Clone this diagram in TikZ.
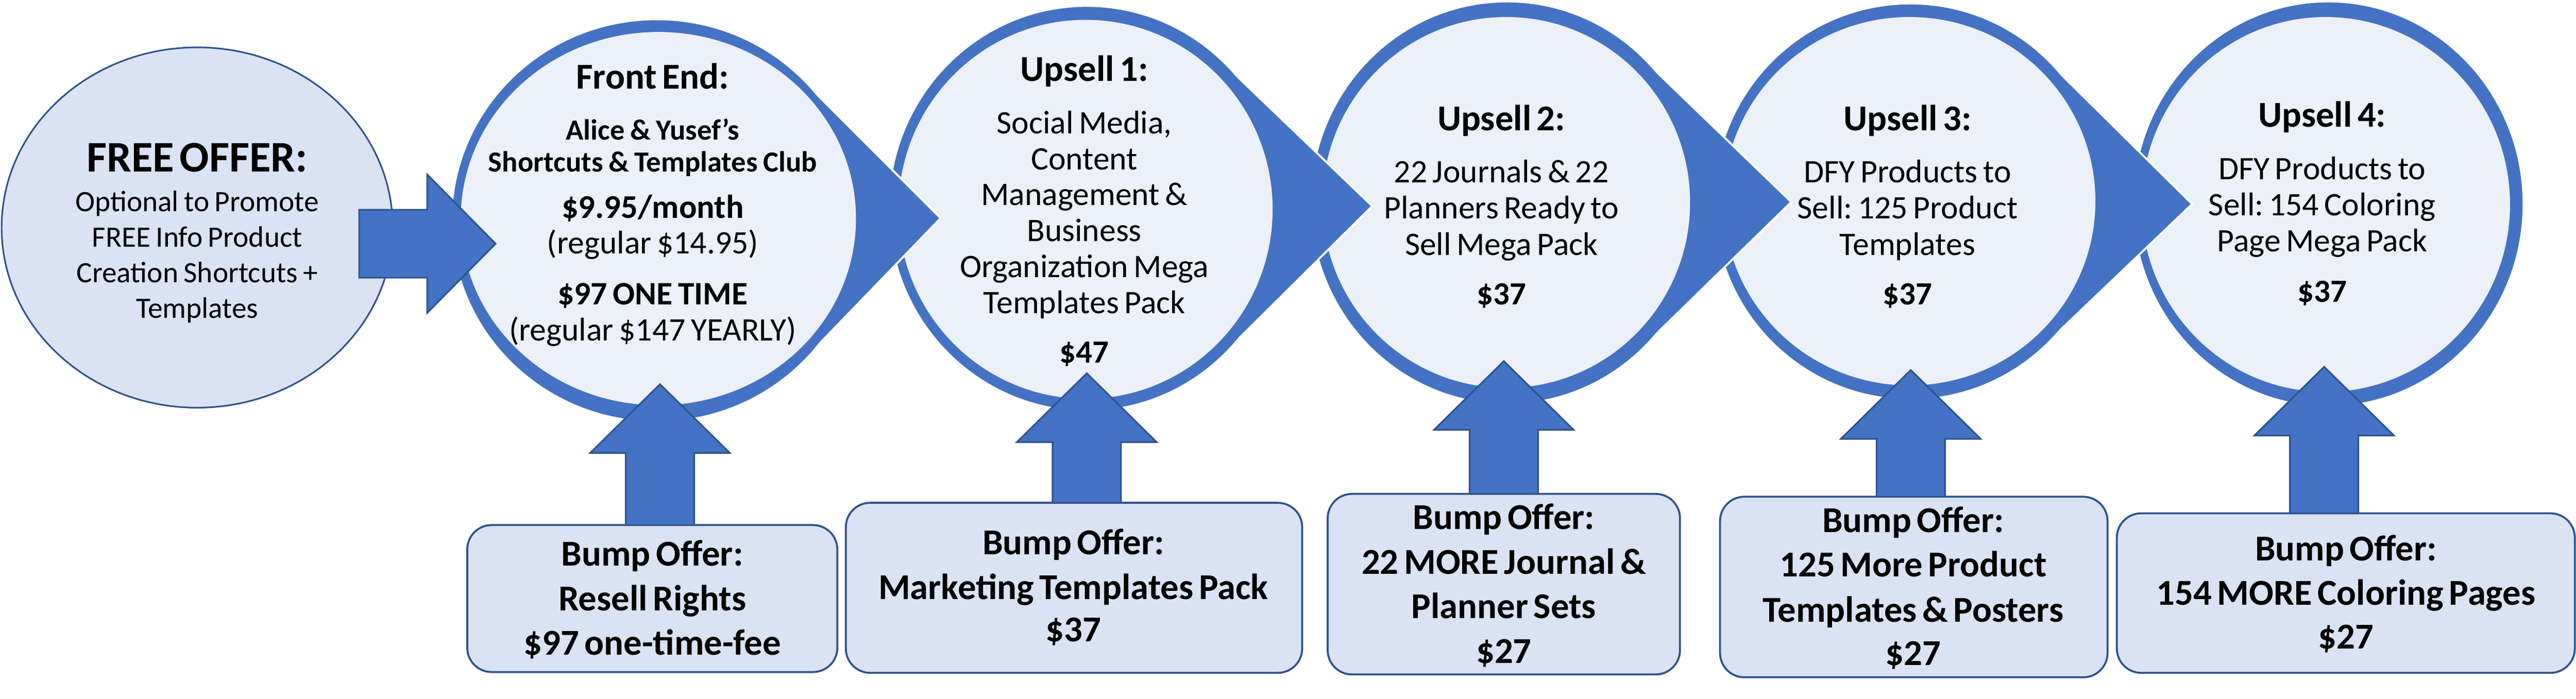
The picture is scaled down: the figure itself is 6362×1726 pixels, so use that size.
\documentclass[tikz,border=0pt]{standalone}
\usepackage{fontspec}
\setmainfont{Carlito}
\usetikzlibrary{calc,shapes.geometric}
\definecolor{ringblue}{HTML}{4472C4}
\definecolor{edgeblue}{HTML}{2F528F}
\definecolor{paleblue}{HTML}{DAE3F3}
\definecolor{innerblue}{HTML}{EBF0F9}
\frenchspacing
\newcommand\txl[3]{{\fontsize{#1pt}{#2pt}\selectfont\noindent #3\par}}
% up block arrow: #1 tip coordinate, #2 box node it starts from
\newcommand\upblk[2]{\draw[blk] ($(#1 |- #2.north)+(-84.5,0)$) -- ($(#1)+(-84.5,170)$) -- ($(#1)+(-172.5,170)$) -- (#1) -- ($(#1)+(172.5,170)$) -- ($(#1)+(84.5,170)$) -- ($(#1 |- #2.north)+(84.5,0)$) -- cycle;}
% wedge of a bubble: #1 tip, #2 centre, #3 cos of half angle, #4 half angle
\newcommand\wedgeblk[4]{%
  \fill[ringblue] (#1) -- ($(#1)!#3!#4:(#2)$) -- (#2) -- ($(#1)!#3!-#4:(#2)$) -- cycle;
  \draw[white,line width=1.2pt] ($(#1)!#3!#4:(#2)$) -- (#1) -- ($(#1)!#3!-#4:(#2)$);}
% bubble: #1 outer centre, #2 #3 outer radii, #4 inner centre, #5 #6 inner radii
\newcommand\bubble[6]{%
  \fill[ringblue] (#1) ellipse [x radius=#2, y radius=#3];
  \fill[innerblue] (#4) ellipse [x radius=#5, y radius=#6];}
\begin{document}
\begin{tikzpicture}[x=0.25pt,y=-0.25pt,
  blk/.style={fill=ringblue,draw=edgeblue,line width=1pt,line join=miter},
  bump/.style={rectangle,rounded corners=15pt,fill=paleblue,draw=edgeblue,line width=1.2pt,inner sep=0pt,outer sep=0pt},
  txt/.style={anchor=base,text width=320pt,align=center,inner sep=0pt,outer sep=0pt}]
\useasboundingbox (0,0) rectangle (6362,1726);
% centres and wedge tips
\coordinate (cU4) at (5750,504); \coordinate (iU4) at (5744,505);
\coordinate (cU3) at (4718,498); \coordinate (iU3) at (4716,497); \coordinate (tU3) at (5414,504);
\coordinate (cU2) at (3722,501); \coordinate (iU2) at (3720,500); \coordinate (tU2) at (4424,499);
\coordinate (cU1) at (2684,515); \coordinate (iU1) at (2681,517); \coordinate (tU1) at (3389,509);
\coordinate (cFE) at (1622,545); \coordinate (iFE) at (1626,540); \coordinate (tFE) at (2323,539);
% bubbles, right to left
\bubble{cU4}{480}{498}{iU4}{455}{463}
\wedgeblk{tU3}{cU3}{0.7173}{44.17}
\bubble{cU3}{483}{487}{iU3}{459}{455}
\wedgeblk{tU2}{cU2}{0.7175}{44.15}
\bubble{cU2}{483}{495}{iU2}{454}{458}
\wedgeblk{tU1}{cU1}{0.7155}{44.3}
\bubble{cU1}{487}{498}{iU1}{462}{468}
\wedgeblk{tFE}{cFE}{0.7007}{45.5}
\bubble{cFE}{505}{495}{iFE}{488}{461}
% free offer
\node[ellipse,fill=paleblue,draw=edgeblue,line width=1pt,minimum width=241.5pt,minimum height=222.5pt,inner sep=0pt] (free) at (487,562) {};
\coordinate (a0s) at (887,602); \coordinate (a0t) at (1224,602);
\draw[blk] ($(a0s)+(0,-84)$) -- ($(a0t)+(-169,-84)$) -- ($(a0t)+(-169,-171)$) -- (a0t) -- ($(a0t)+(-169,171)$) -- ($(a0t)+(-169,84)$) -- ($(a0s)+(0,84)$) -- cycle;
% bump boxes
\node[bump,minimum width=228.5pt,minimum height=90.75pt] (b1) at (1611,1478.5) {};
\node[bump,minimum width=281.75pt,minimum height=105pt] (b2) at (2652.5,1452) {};
\node[bump,minimum width=217.5pt,minimum height=111.5pt] (b3) at (3714,1443) {};
\node[bump,minimum width=239.25pt,minimum height=111.5pt] (b4) at (4726.5,1450) {};
\node[bump,minimum width=282.75pt,minimum height=98.5pt] (b5) at (5793.5,1465) {};
% up arrows
\coordinate (a1tip) at (1630,949);
\coordinate (a2tip) at (2684,922);
\coordinate (a3tip) at (3714,892);
\coordinate (a4tip) at (4719,914);
\coordinate (a5tip) at (5740,906);
\upblk{a1tip}{b1}
\upblk{a2tip}{b2}
\upblk{a3tip}{b3}
\upblk{a4tip}{b4}
\upblk{a5tip}{b5}
% texts
\node[txt] (freet) at (487,424) {\txl{27}{27}{\bfseries FREE OFFER:}\txl{18.25}{24.5}{Optional to Promote}\txl{18.25}{22}{FREE Info Product}\txl{18.25}{22}{Creation Shortcuts +}\txl{18.25}{22}{Templates}};
\node[txt] (fet) at (1612,220) {\txl{22.5}{22.5}{\bfseries Front End:}\txl{18}{31.25}{\bfseries Alice \& Yusef’s}\txl{18}{19.75}{\bfseries Shortcuts \& Templates Club}\txl{20.5}{28.75}{\bfseries \$9.95/month}\txl{20.25}{22}{(regular \$14.95)}\txl{20.25}{31.25}{\bfseries \$97 ONE TIME}\txl{20.25}{22.5}{(regular \$147 YEARLY)}};
\node[txt] (u1t) at (2678,201) {\txl{22.5}{22.5}{\bfseries Upsell 1:}\txl{20.25}{32.25}{Social Media,}\txl{20.25}{22.2}{Content}\txl{20.25}{22.2}{Management \&}\txl{20.25}{22.2}{Business}\txl{20.25}{22.2}{Organization Mega}\txl{20.25}{22.2}{Templates Pack}\txl{20}{30.75}{\bfseries \$47}};
\node[txt] (u2t) at (3708,322) {\txl{22.5}{22.5}{\bfseries Upsell 2:}\txl{20.25}{32.25}{22 Journals \& 22}\txl{20.25}{22.4}{Planners Ready to}\txl{20.25}{22.4}{Sell Mega Pack}\txl{20}{30.75}{\bfseries \$37}};
\node[txt] (u3t) at (4711,322) {\txl{22.5}{22.5}{\bfseries Upsell 3:}\txl{20.25}{32.25}{DFY Products to}\txl{20.25}{22.4}{Sell: 125 Product}\txl{20.25}{22.4}{Templates}\txl{20}{30.75}{\bfseries \$37}};
\node[txt] (u4t) at (5735,314) {\txl{22.5}{22.5}{\bfseries Upsell 4:}\txl{20.25}{32.5}{DFY Products to}\txl{20.25}{22.25}{Sell: 154 Coloring}\txl{20.25}{22.25}{Page Mega Pack}\txl{20}{31}{\bfseries \$37}};
\node[txt] (b1t) at (1611,1398) {\txl{22.5}{27.5}{\bfseries Bump Offer:}\txl{22.5}{27.5}{\bfseries Resell Rights}\txl{22.5}{27.5}{\bfseries \$97 one-time-fee}};
\node[txt] (b2t) at (2651,1370) {\txl{22.5}{27.5}{\bfseries Bump Offer:}\txl{22.5}{27.75}{\bfseries Marketing Templates Pack}\txl{22.5}{26}{\bfseries \$37}};
\node[txt] (b3t) at (3714,1308) {\txl{22.5}{27.5}{\bfseries Bump Offer:}\txl{22.5}{27.5}{\bfseries 22 MORE Journal \&}\txl{22.5}{27.5}{\bfseries Planner Sets}\txl{22.5}{27.5}{\bfseries \$27}};
\node[txt] (b4t) at (4725,1315) {\txl{22.5}{27.5}{\bfseries Bump Offer:}\txl{22.5}{27.5}{\bfseries 125 More Product}\txl{22.5}{27.75}{\bfseries Templates \& Posters}\txl{22.5}{26.75}{\bfseries \$27}};
\node[txt] (b5t) at (5794,1385) {\txl{22.5}{27.5}{\bfseries Bump Offer:}\txl{22.5}{27.5}{\bfseries 154 MORE Coloring Pages}\txl{22.5}{26.75}{\bfseries \$27}};
\end{tikzpicture}
\end{document}
